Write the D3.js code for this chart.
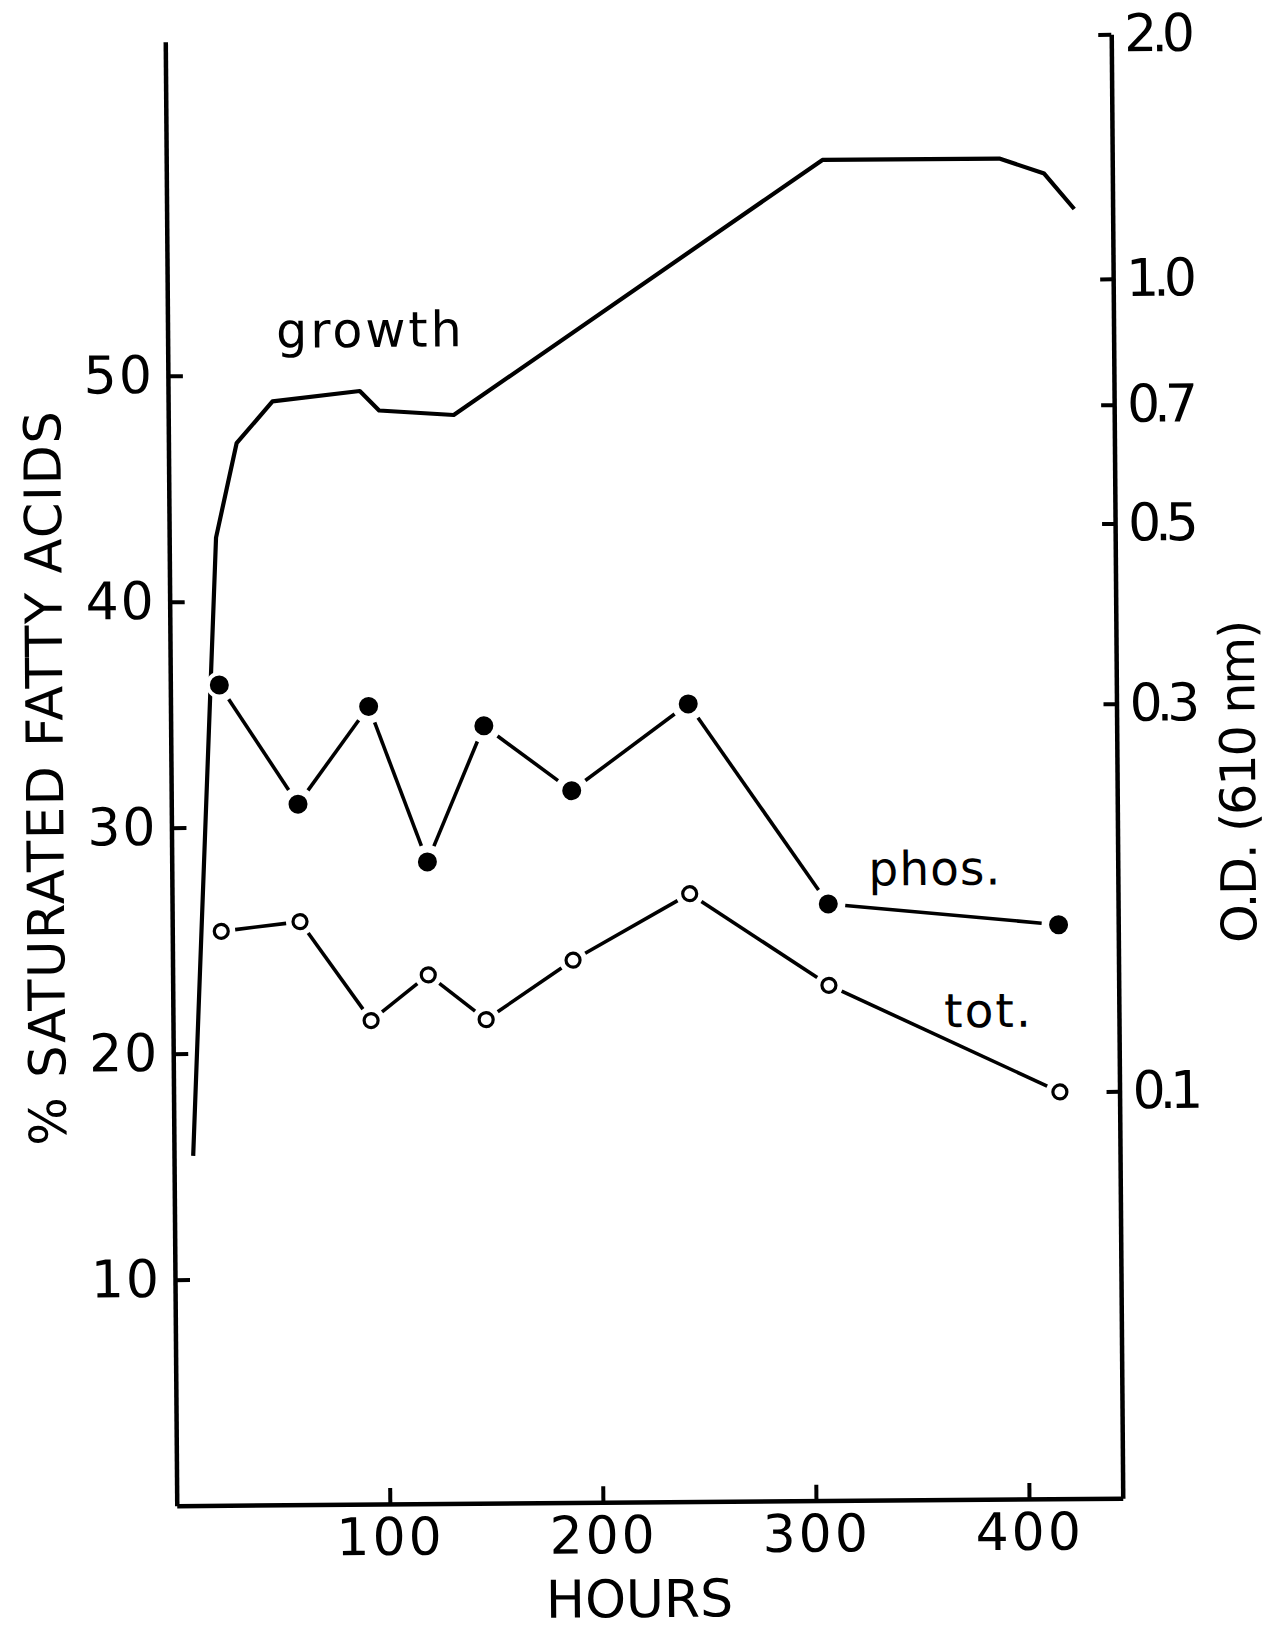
<!DOCTYPE html>
<html>
<head>
<meta charset="utf-8">
<script src="https://cdn.jsdelivr.net/npm/d3@7"></script>
<style>
  body { margin: 0; background: #fff; }
  svg text { font-family: "DejaVu Sans", sans-serif; fill: #000; }
</style>
</head>
<body>
<div id="chart"></div>
<script>
// values
var phosHours = [23, 59.5, 93, 120, 147, 188, 243, 308, 416];
var phosPct   = [36.3, 31.0, 35.3, 28.4, 34.4, 31.5, 35.3, 26.4, 25.4];

var totHours = [23, 60, 93, 120, 147, 188, 243, 308, 416];
var totPct   = [25.4, 25.8, 21.4, 23.4, 21.4, 24.0, 26.9, 22.8, 18.0];

var growthHours = [9, 22, 32, 49, 90, 99, 134, 308, 391, 412, 426];
var growthOD    = [0.085, 0.49, 0.64, 0.72, 0.74, 0.70, 0.69, 1.41, 1.41, 1.35, 1.22];

var hourTicks = [100, 200, 300, 400];
var pctTicks  = [10, 20, 30, 40, 50];
var odTicks   = [0.1, 0.3, 0.5, 0.7, 1.0, 2.0];

var seriesLabels = [
  { text: 'growth', h: 51, v: 51.2, size: 49, ls: 3 },
  { text: 'phos.',  h: 327, v: 27.2, size: 47, ls: 1 },
  { text: 'tot.',   h: 362, v: 20.9, size: 47, ls: 2 }
];

var width = 1274,
    height = 1637;

// plot frame (top is left open, as in the original)
var frame = { left: 171, right: 1117, top: 38, bottom: 1502 };

var x = d3.scaleLinear().domain([0, 444]).range([frame.left, frame.right]);
var y = d3.scaleLinear().domain([0, 64.78]).range([frame.bottom, frame.top]);

var od = d3.scaleLog().domain([0.1, 2]).range([1095, frame.top]);
od.domain([od.invert(frame.bottom), 2]).range([frame.bottom, frame.top]);

var svg = d3.select('#chart').append('svg')
  .attr('width', width)
  .attr('height', height);

// the scan is turned a little
var g = svg.append('g')
  .attr('transform', 'rotate(-0.45,645,770)');

// axes
var yAxis = d3.axisLeft(y)
  .tickValues(pctTicks)
  .tickSize(-15)
  .tickSizeOuter(0)
  .tickPadding(14)
  .tickFormat(d3.format('d'));

var odAxis = d3.axisRight(od)
  .tickValues(odTicks)
  .tickSize(-13)
  .tickSizeOuter(0)
  .tickPadding(13)
  .tickFormat(d3.format('.1f'));

var xAxis = d3.axisBottom(x)
  .tickValues(hourTicks)
  .tickSize(-16)
  .tickSizeOuter(0)
  .tickPadding(14)
  .tickFormat(d3.format('d'));

function styleAxis(sel) {
  sel.select('.domain').attr('stroke', '#000').attr('stroke-width', 4.5);
  sel.selectAll('.tick line').attr('stroke', '#000').attr('stroke-width', 4);
  sel.selectAll('.tick text')
    .attr('fill', '#000')
    .style('font-size', '52px')
    .style('font-family', '"DejaVu Sans", sans-serif');
}

g.append('g')
  .attr('transform', 'translate(' + frame.left + ',0)')
  .call(yAxis)
  .call(styleAxis)
  .selectAll('.tick text').style('letter-spacing', '2px');

g.append('g')
  .attr('transform', 'translate(' + frame.right + ',0)')
  .call(odAxis)
  .call(styleAxis)
  .selectAll('.tick text').style('letter-spacing', '-6px');

g.append('g')
  .attr('transform', 'translate(0,' + frame.bottom + ')')
  .call(xAxis)
  .call(styleAxis)
  .selectAll('.tick text').style('letter-spacing', '3px');

// axis titles
g.append('text')
  .attr('transform', 'translate(63,773) rotate(-90)')
  .attr('text-anchor', 'middle')
  .style('font-size', '51px')
  .style('letter-spacing', '1.5px')
  .text('% SATURATED FATTY ACIDS');

g.append('text')
  .attr('transform', 'translate(1255,787) rotate(-90)')
  .attr('text-anchor', 'middle')
  .style('font-size', '49px')
  .style('letter-spacing', '-2px')
  .text('O.D. (610 nm)');

g.append('text')
  .attr('x', 633)
  .attr('y', 1617)
  .attr('text-anchor', 'middle')
  .style('font-size', '52px')
  .text('HOURS');

// growth curve (right log axis)
var growthPts = growthHours.map(function(h, i) { return [x(h), od(growthOD[i])]; });

g.append('path')
  .datum(growthPts)
  .attr('d', d3.line())
  .attr('fill', 'none')
  .attr('stroke', '#000')
  .attr('stroke-width', 4.2)
  .attr('stroke-linejoin', 'round');

// lines between markers stop short of them
function gapSegments(pts, gap) {
  return d3.pairs(pts).map(function(p) {
    var dx = p[1][0] - p[0][0], dy = p[1][1] - p[0][1];
    var L = Math.sqrt(dx * dx + dy * dy), ux = dx / L, uy = dy / L;
    return [[p[0][0] + ux * gap, p[0][1] + uy * gap],
            [p[1][0] - ux * gap, p[1][1] - uy * gap]];
  });
}

var phosPts = phosHours.map(function(h, i) { return [x(h), y(phosPct[i])]; });
var totPts = totHours.map(function(h, i) { return [x(h), y(totPct[i])]; });

g.selectAll('.phos-seg')
  .data(gapSegments(phosPts, 17))
  .enter().append('path')
  .attr('class', 'phos-seg')
  .attr('d', d3.line())
  .attr('stroke', '#000')
  .attr('stroke-width', 3.6);

g.selectAll('.tot-seg')
  .data(gapSegments(totPts, 14))
  .enter().append('path')
  .attr('class', 'tot-seg')
  .attr('d', d3.line())
  .attr('stroke', '#000')
  .attr('stroke-width', 3.6);

// filled markers get a white halo so the growth line breaks round them
g.selectAll('.phos')
  .data(phosPts)
  .enter().append('circle')
  .attr('class', 'phos')
  .attr('cx', function(d) { return d[0]; })
  .attr('cy', function(d) { return d[1]; })
  .attr('r', 9.5)
  .attr('fill', '#000')
  .attr('stroke', '#fff')
  .attr('stroke-width', 8)
  .attr('paint-order', 'stroke');

g.selectAll('.tot')
  .data(totPts)
  .enter().append('circle')
  .attr('class', 'tot')
  .attr('cx', function(d) { return d[0]; })
  .attr('cy', function(d) { return d[1]; })
  .attr('r', 7)
  .attr('fill', '#fff')
  .attr('stroke', '#000')
  .attr('stroke-width', 3.2);

// series labels
g.selectAll('.lab')
  .data(seriesLabels)
  .enter().append('text')
  .attr('class', 'lab')
  .attr('x', function(d) { return x(d.h); })
  .attr('y', function(d) { return y(d.v); })
  .style('font-size', function(d) { return d.size + 'px'; })
  .style('letter-spacing', function(d) { return d.ls + 'px'; })
  .text(function(d) { return d.text; });
</script>
</body>
</html>
